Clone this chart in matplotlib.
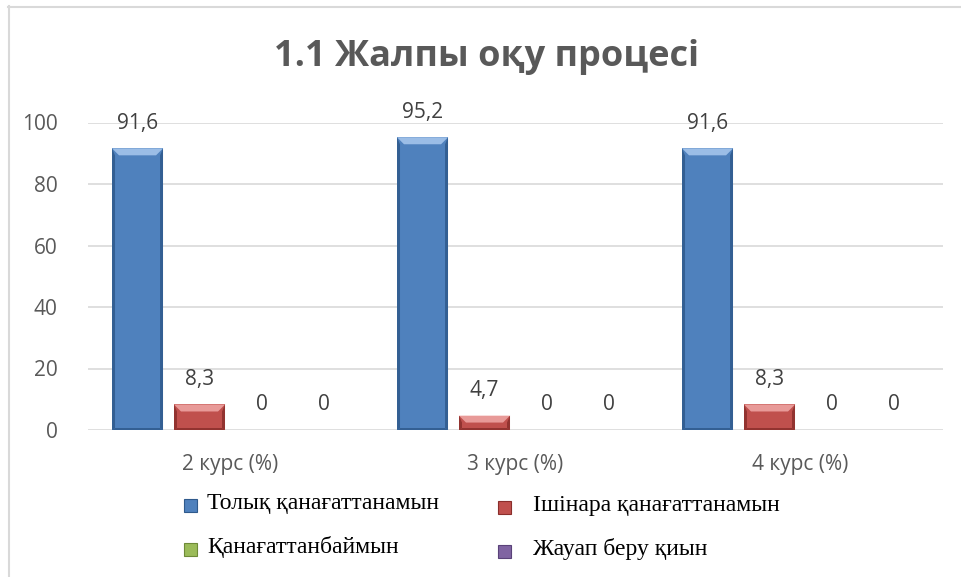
import matplotlib
matplotlib.use("Agg")
import matplotlib.pyplot as plt
from matplotlib.lines import Line2D
from matplotlib.patches import Rectangle, Polygon
import numpy as np

title = "1.1 Жалпы оқу процесі"
categories = ["2 курс (%)", "3 курс (%)", "4 курс (%)"]
series_names = ["Толық қанағаттанамын", "Ішінара қанағаттанамын",
                "Қанағаттанбаймын", "Жауап беру қиын"]
full = [91.6, 95.2, 91.6]
partial = [8.3, 4.7, 8.3]
not_sat = [0, 0, 0]
hard = [0, 0, 0]
series_values = [full, partial, not_sat, hard]
colors = ["#4F81BD", "#C0504D", "#9BBB59", "#8064A2"]
light_colors = ["#a9c8ee", "#f0a8a6", "#d2e8a8", "#c2aee0"]
dark_colors = ["#2f5a8c", "#8a2e2b", "#6e8a38", "#5a4279"]
yticks = [0, 20, 40, 60, 80, 100]

W, H = 962, 577
fig = plt.figure(figsize=(W / 100, H / 100), dpi=100)
fig.patch.set_facecolor("white")

# outer frame
fig.add_artist(Line2D([8.5 / W, 8.5 / W], [0, 1 - 6 / H], color="#d9d9d9", lw=1.5))
fig.add_artist(Line2D([8 / W, 1], [1 - 6.5 / H, 1 - 6.5 / H], color="#d9d9d9", lw=1.5))

ax = fig.add_axes([88 / W, (H - 430) / H, (943 - 88) / W, (430 - 122.5) / H])
ax.set_xlim(-0.5, 2.5)
ax.set_ylim(0, 100)
for s in ax.spines.values():
    s.set_visible(False)
ax.set_yticks(yticks)
ax.yaxis.grid(True, color="#d9d9d9", lw=1.2)
ax.set_axisbelow(True)
ax.tick_params(axis="y", length=0, pad=22, labelsize=15, labelcolor="#595959")
ax.tick_params(axis="x", length=0, pad=17, labelsize=15, labelcolor="#595959")
for lab in ax.get_yticklabels() + ax.get_xticklabels():
    lab.set_fontfamily("Open Sans")
x = np.arange(len(categories))
ax.set_xticks(x)
ax.set_xticklabels(categories)

step = 0.2175
width = 0.179
bevel_px = 7.0
fig.canvas.draw()
to_fig = fig.transFigure.inverted()
for i, vals in enumerate(series_values):
    pos = x + (i - 1.5) * step
    bars = ax.bar(pos, vals, width, color=colors[i], lw=0, label=series_names[i], zorder=3)
    for rect, v in zip(bars, vals):
        if v > 0:
            (x0, y0), (x1, y1) = ax.transData.transform(
                [(rect.get_x(), 0), (rect.get_x() + rect.get_width(), rect.get_height())])
            b = min(bevel_px, (y1 - y0) / 2)
            polys = [
                ([(x0, y1), (x1, y1), (x1 - b, y1 - b), (x0 + b, y1 - b)], light_colors[i]),
                ([(x1, y1), (x1, y0), (x1 - 3, y0 + 2), (x1 - 3, y1 - b)], dark_colors[i]),
                ([(x0, y1), (x0, y0), (x0 + 3, y0 + 2), (x0 + 3, y1 - b)], dark_colors[i]),
                ([(x0, y0), (x1, y0), (x1 - 3, y0 + 2), (x0 + 3, y0 + 2)], dark_colors[i]),
            ]
            for pts, col in polys:
                fp = to_fig.transform(pts)
                fig.add_artist(Polygon(fp, closed=True, transform=fig.transFigure,
                                       facecolor=col, edgecolor="none", alpha=0.85, zorder=5))
    for p, v in zip(pos, vals):
        lbl = ("%g" % v).replace(".", ",")
        ax.annotate(lbl, (p, v), xytext=(0, 18), textcoords="offset points",
                    ha="center", va="center", fontsize=15, color="#404040",
                    family="Open Sans", annotation_clip=False)

fig.text(487 / W, 1 - 57 / H, title, ha="center", va="center", fontsize=26,
         fontweight="bold", color="#595959", family="Open Sans")

# legend
leg_pos = [(191, 505), (505, 507), (191, 549), (505, 551)]
text_x = [207, 533, 207, 533]
for i, ((lx, ly), tx) in enumerate(zip(leg_pos, text_x)):
    fig.patches.append(Rectangle(((lx - 6.5) / W, 1 - (ly + 6.5) / H), 13 / W, 13 / H,
                                 transform=fig.transFigure, facecolor=colors[i],
                                 edgecolor=dark_colors[i], lw=0.8))
    fig.text(tx / W, 1 - (ly - 2) / H, series_names[i], ha="left", va="center",
             fontsize=17, family="Liberation Serif", color="#000000")

fig.savefig("out.png", dpi=100)
